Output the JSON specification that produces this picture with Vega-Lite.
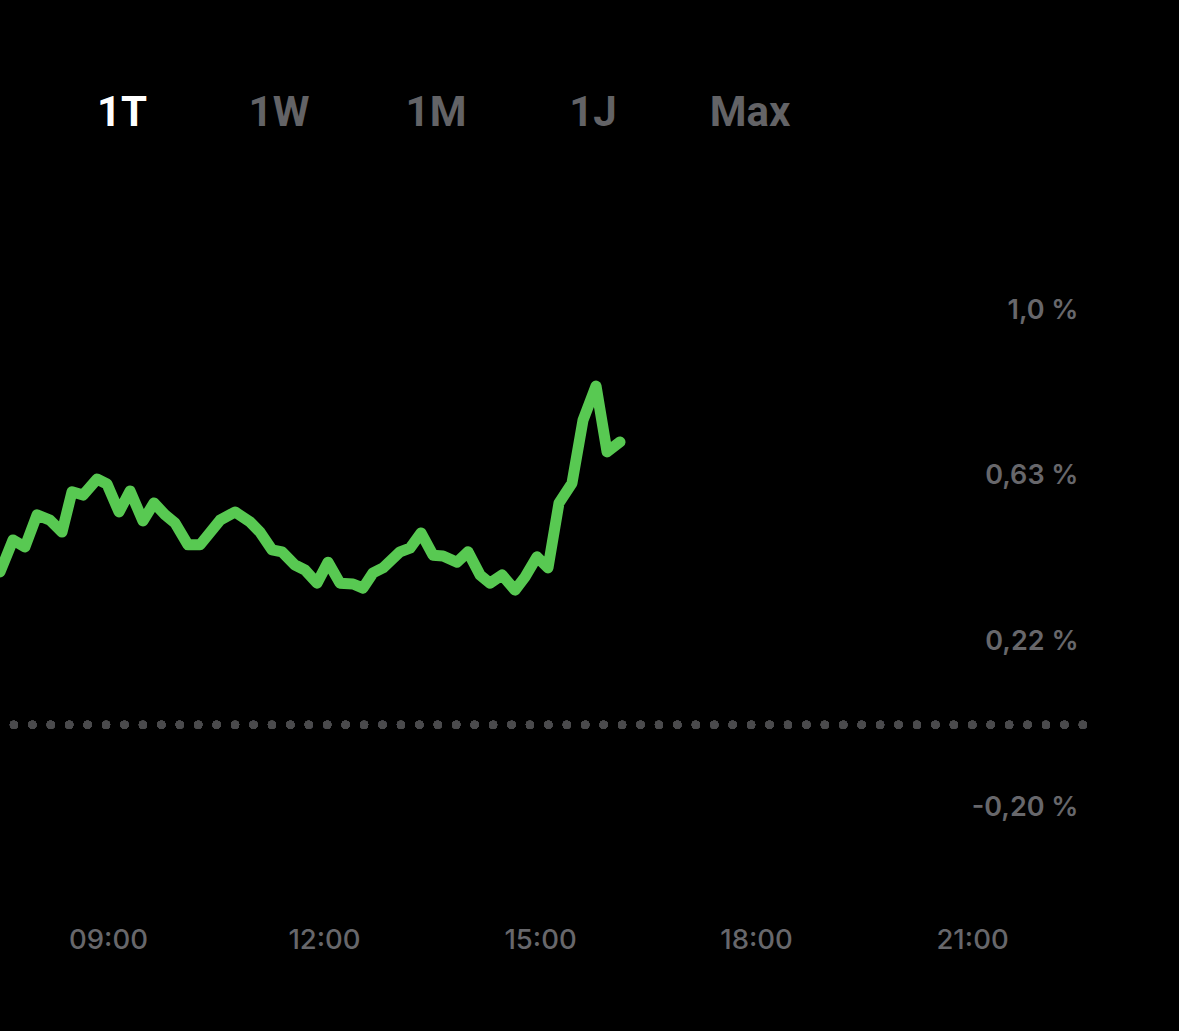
{
  "$schema": "https://vega.github.io/schema/vega-lite/v6.json",
  "width": 1086,
  "height": 910,
  "autosize": {"type": "none"},
  "padding": {"left": 0, "top": 0, "right": 93, "bottom": 121},
  "background": "#000000",
  "config": {"view": {"stroke": null}},
  "datasets": {
    "series": [
      {"hour": 7.5, "pct": 0.371}, {"hour": 7.681, "pct": 0.449}, {"hour": 7.847, "pct": 0.432},
      {"hour": 8.014, "pct": 0.51}, {"hour": 8.194, "pct": 0.497}, {"hour": 8.361, "pct": 0.468},
      {"hour": 8.5, "pct": 0.566}, {"hour": 8.653, "pct": 0.558}, {"hour": 8.847, "pct": 0.597},
      {"hour": 8.986, "pct": 0.585}, {"hour": 9.153, "pct": 0.517}, {"hour": 9.306, "pct": 0.568},
      {"hour": 9.486, "pct": 0.495}, {"hour": 9.639, "pct": 0.539}, {"hour": 9.792, "pct": 0.51},
      {"hour": 9.931, "pct": 0.49}, {"hour": 10.111, "pct": 0.437}, {"hour": 10.278, "pct": 0.437},
      {"hour": 10.556, "pct": 0.497}, {"hour": 10.764, "pct": 0.517}, {"hour": 10.972, "pct": 0.493},
      {"hour": 11.111, "pct": 0.468}, {"hour": 11.278, "pct": 0.425}, {"hour": 11.417, "pct": 0.42},
      {"hour": 11.597, "pct": 0.388}, {"hour": 11.736, "pct": 0.376}, {"hour": 11.903, "pct": 0.344},
      {"hour": 12.056, "pct": 0.395}, {"hour": 12.222, "pct": 0.344}, {"hour": 12.403, "pct": 0.342},
      {"hour": 12.542, "pct": 0.332}, {"hour": 12.681, "pct": 0.369}, {"hour": 12.819, "pct": 0.381},
      {"hour": 13.056, "pct": 0.42}, {"hour": 13.194, "pct": 0.429}, {"hour": 13.347, "pct": 0.466},
      {"hour": 13.514, "pct": 0.412}, {"hour": 13.653, "pct": 0.41}, {"hour": 13.847, "pct": 0.395},
      {"hour": 14.0, "pct": 0.42}, {"hour": 14.167, "pct": 0.364}, {"hour": 14.306, "pct": 0.344},
      {"hour": 14.472, "pct": 0.364}, {"hour": 14.653, "pct": 0.327}, {"hour": 14.792, "pct": 0.359},
      {"hour": 14.958, "pct": 0.408}, {"hour": 15.111, "pct": 0.381}, {"hour": 15.264, "pct": 0.539},
      {"hour": 15.444, "pct": 0.587}, {"hour": 15.597, "pct": 0.74}, {"hour": 15.778, "pct": 0.823},
      {"hour": 15.931, "pct": 0.663}, {"hour": 16.111, "pct": 0.687}
    ],
    "tabs": [
      {"tab": "1T"}, {"tab": "1W"}, {"tab": "1M"}, {"tab": "1J"}, {"tab": "Max"}
    ]
  },
  "layer": [
    {
      "data": {"name": "series"},
      "mark": {"type": "rule", "color": "#4a4a4c", "strokeWidth": 8, "strokeCap": "round", "strokeDash": [0.1, 18.33], "strokeDashOffset": 15.33},
      "encoding": {"y": {"datum": 0, "type": "quantitative"}}
    },
    {
      "data": {"name": "series"},
      "mark": {"type": "line", "color": "#58c952", "strokeWidth": 11, "strokeJoin": "round", "strokeCap": "round"},
      "encoding": {
        "x": {
          "field": "hour", "type": "quantitative",
          "scale": {"domain": [7.5, 22.583], "nice": false, "zero": false},
          "axis": {
            "title": null, "values": [9, 12, 15, 18, 21],
            "labelExpr": "(datum.value < 10 ? '0' : '') + datum.value + ':00'",
            "grid": false, "domain": false, "ticks": false, "tickSize": 0,
            "labelPadding": 16, "labelFont": "Inter", "labelFontWeight": 500,
            "labelFontSize": 27.5, "labelColor": "#67676b", "labelFlush": false
          }
        },
        "y": {
          "field": "pct", "type": "quantitative",
          "scale": {"domain": [-0.4503, 1.7611], "nice": false, "zero": false},
          "axis": {
            "orient": "right", "title": null,
            "values": [-0.2, 0.2022, 0.6044, 1.0066],
            "labelExpr": "datum.value < 0 ? '-0,20 %' : datum.value < 0.4 ? '0,22 %' : datum.value < 0.8 ? '0,63 %' : '1,0 %'",
            "grid": false, "domain": false, "ticks": false, "tickSize": 0,
            "labelAlign": "right", "labelBaseline": "middle", "labelPadding": -8,
            "labelFont": "Inter", "labelFontWeight": 600, "labelFontSize": 27,
            "labelColor": "#67676b", "labelFlush": false
          }
        }
      }
    },
    {
      "data": {"name": "tabs"},
      "mark": {"type": "text", "font": "Roboto", "fontWeight": "bold", "fontSize": 42, "align": "center", "baseline": "middle"},
      "encoding": {
        "x": {
          "field": "tab", "type": "nominal",
          "scale": {"type": "point", "domain": ["1T", "1W", "1M", "1J", "Max"], "range": [122, 750], "padding": 0},
          "axis": null
        },
        "y": {"datum": 1.486, "type": "quantitative"},
        "text": {"field": "tab"},
        "color": {"condition": {"test": "datum.tab === '1T'", "value": "#ffffff"}, "value": "#636366"}
      }
    }
  ],
  "resolve": {"scale": {"x": "independent"}, "axis": {"x": "independent"}}
}
